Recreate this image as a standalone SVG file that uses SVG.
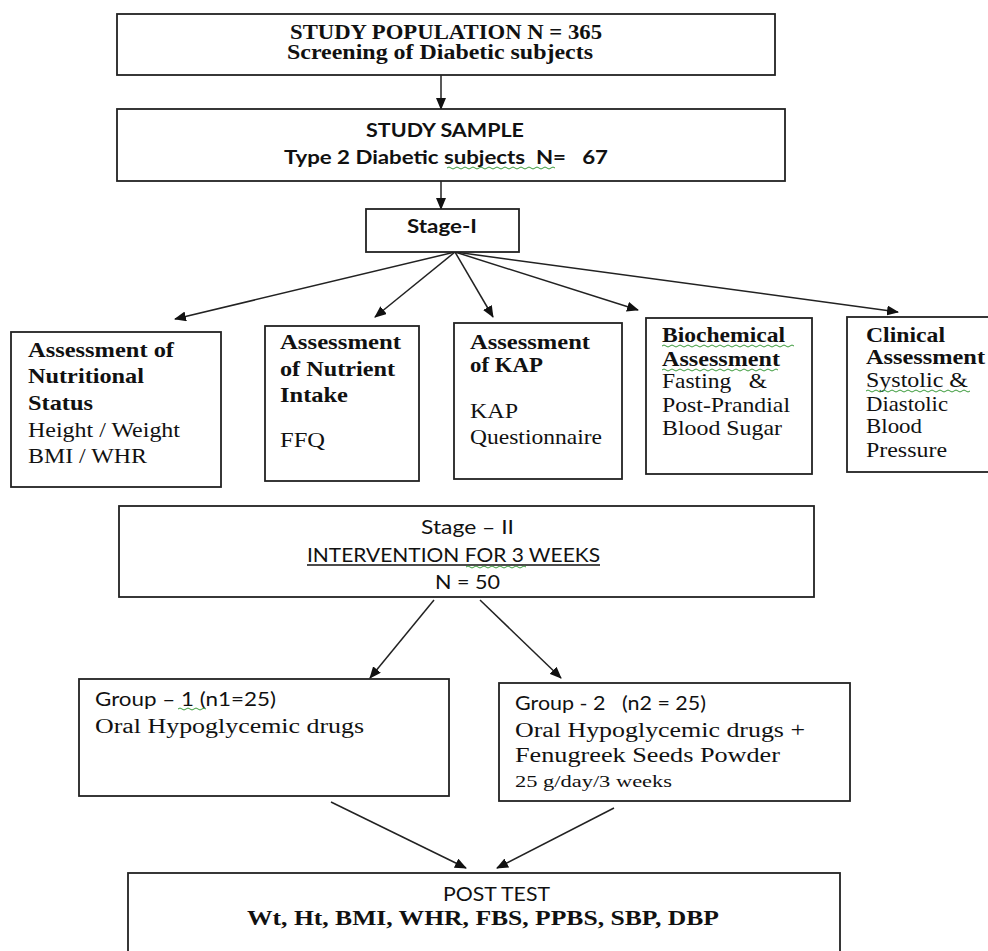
<svg xmlns="http://www.w3.org/2000/svg" width="988" height="951" viewBox="0 0 988 951">
<style>
.box{fill:#fff;stroke:#222;stroke-width:1.8}
.ser{font-family:"Liberation Serif","Times New Roman",serif;fill:#111}
.san{font-family:Lato,"Liberation Sans",Arial,sans-serif;fill:#111}
.b{font-weight:bold}
.con{stroke:#222;stroke-width:1.5;fill:none}
.wav{stroke:#3a9a3a;stroke-width:1;fill:none}
</style>
<defs>
<marker id="ah" markerUnits="userSpaceOnUse" markerWidth="12" markerHeight="10" refX="11" refY="5" orient="auto">
<path d="M0,0 L12,5 L0,10 Z" fill="#111"/>
</marker>
</defs>
<rect width="988" height="951" fill="#fff"/>

<g id="connectors">
<line class="con" x1="441" y1="75" x2="441" y2="109" marker-end="url(#ah)"/>
<line class="con" x1="441" y1="181" x2="441" y2="209" marker-end="url(#ah)"/>
<line class="con" x1="455" y1="252" x2="175" y2="319" marker-end="url(#ah)"/>
<line class="con" x1="455" y1="252" x2="375" y2="317" marker-end="url(#ah)"/>
<line class="con" x1="455" y1="252" x2="493" y2="317" marker-end="url(#ah)"/>
<line class="con" x1="455" y1="252" x2="638" y2="310" marker-end="url(#ah)"/>
<line class="con" x1="455" y1="252" x2="898" y2="312" marker-end="url(#ah)"/>
<line class="con" x1="434" y1="600" x2="370" y2="678" marker-end="url(#ah)"/>
<line class="con" x1="480" y1="600" x2="561" y2="678" marker-end="url(#ah)"/>
<line class="con" x1="331" y1="802" x2="466" y2="868" marker-end="url(#ah)"/>
<line class="con" x1="614" y1="808" x2="497" y2="868" marker-end="url(#ah)"/>
</g>

<g id="population">
<rect class="box" x="117" y="14" width="658" height="61"/>
<text class="ser b" x="290" y="39" font-size="20" textLength="312" lengthAdjust="spacingAndGlyphs">STUDY POPULATION N = 365</text>
<text class="ser b" x="287" y="59" font-size="20" textLength="306" lengthAdjust="spacingAndGlyphs">Screening of Diabetic subjects</text>
</g>

<g id="sample">
<rect class="box" x="117" y="109" width="668" height="72"/>
<text class="san b" x="366" y="137" font-size="19" textLength="158" lengthAdjust="spacingAndGlyphs">STUDY SAMPLE</text>
<text class="san b" x="284" y="164" font-size="19" textLength="324" lengthAdjust="spacingAndGlyphs" xml:space="preserve">Type 2 Diabetic subjects  N=   67</text>
<path class="wav" d="M447,168 q2,-2 4,0 t4,0 t4,0 t4,0 t4,0 t4,0 t4,0 t4,0 t4,0 t4,0 t4,0 t4,0 t4,0 t4,0 t4,0 t4,0 t4,0 t4,0 t4,0 t4,0 t4,0 t4,0 t4,0 t4,0 t4,0 t4,0 t4,0"/>
</g>

<g id="stage1">
<rect class="box" x="366" y="209" width="153" height="43"/>
<text class="san b" x="407" y="233" font-size="19" textLength="70" lengthAdjust="spacingAndGlyphs">Stage-I</text>
</g>

<g id="nutritional">
<rect class="box" x="11" y="332" width="210" height="155"/>
<text class="ser b" x="28" y="357" font-size="21" textLength="146" lengthAdjust="spacingAndGlyphs">Assessment of</text>
<text class="ser b" x="28" y="383" font-size="21" textLength="116" lengthAdjust="spacingAndGlyphs">Nutritional</text>
<text class="ser b" x="28" y="410" font-size="21" textLength="65" lengthAdjust="spacingAndGlyphs">Status</text>
<text class="ser" x="28" y="437" font-size="21" textLength="152" lengthAdjust="spacingAndGlyphs">Height / Weight</text>
<text class="ser" x="28" y="463" font-size="21" textLength="119" lengthAdjust="spacingAndGlyphs">BMI / WHR</text>
</g>

<g id="nutrient">
<rect class="box" x="265" y="326" width="154" height="155"/>
<text class="ser b" x="280" y="349" font-size="21" textLength="121" lengthAdjust="spacingAndGlyphs">Assessment</text>
<text class="ser b" x="280" y="376" font-size="21" textLength="115" lengthAdjust="spacingAndGlyphs">of Nutrient</text>
<text class="ser b" x="280" y="402" font-size="21" textLength="68" lengthAdjust="spacingAndGlyphs">Intake</text>
<text class="ser" x="280" y="447" font-size="21" textLength="45" lengthAdjust="spacingAndGlyphs">FFQ</text>
</g>

<g id="kap">
<rect class="box" x="454" y="323" width="168" height="156"/>
<text class="ser b" x="470" y="349" font-size="21" textLength="120" lengthAdjust="spacingAndGlyphs">Assessment</text>
<text class="ser b" x="470" y="372" font-size="21" textLength="73" lengthAdjust="spacingAndGlyphs">of KAP</text>
<text class="ser" x="470" y="418" font-size="21" textLength="48" lengthAdjust="spacingAndGlyphs">KAP</text>
<text class="ser" x="470" y="444" font-size="21" textLength="132" lengthAdjust="spacingAndGlyphs">Questionnaire</text>
</g>

<g id="biochemical">
<rect class="box" x="646" y="318" width="166" height="156"/>
<text class="ser b" x="662" y="342" font-size="21" textLength="123" lengthAdjust="spacingAndGlyphs">Biochemical</text>
<text class="ser b" x="662" y="366" font-size="21" textLength="118" lengthAdjust="spacingAndGlyphs">Assessment</text>
<text class="ser" x="662" y="388" font-size="21" textLength="105" lengthAdjust="spacingAndGlyphs" xml:space="preserve">Fasting   &amp;</text>
<text class="ser" x="662" y="412" font-size="21" textLength="128" lengthAdjust="spacingAndGlyphs">Post-Prandial</text>
<text class="ser" x="662" y="435" font-size="21" textLength="120" lengthAdjust="spacingAndGlyphs">Blood Sugar</text>
<path class="wav" d="M662,346 q2,-2 4,0 t4,0 t4,0 t4,0 t4,0 t4,0 t4,0 t4,0 t4,0 t4,0 t4,0 t4,0 t4,0 t4,0 t4,0 t4,0 t4,0 t4,0 t4,0 t4,0 t4,0 t4,0 t4,0 t4,0 t4,0 t4,0 t4,0 t4,0 t4,0 t4,0 t4,0 t4,0 t4,0"/>
<path class="wav" d="M662,370 q2,-2 4,0 t4,0 t4,0 t4,0 t4,0 t4,0 t4,0 t4,0 t4,0 t4,0 t4,0 t4,0 t4,0 t4,0 t4,0 t4,0 t4,0 t4,0 t4,0 t4,0 t4,0 t4,0 t4,0 t4,0 t4,0 t4,0 t4,0 t4,0 t4,0"/>
</g>

<g id="clinical">
<rect class="box" x="847" y="317" width="150" height="155"/>
<text class="ser b" x="866" y="342" font-size="21" textLength="79" lengthAdjust="spacingAndGlyphs">Clinical</text>
<text class="ser b" x="866" y="364" font-size="21" textLength="119" lengthAdjust="spacingAndGlyphs">Assessment</text>
<text class="ser" x="866" y="387" font-size="21" textLength="102" lengthAdjust="spacingAndGlyphs">Systolic &amp;</text>
<text class="ser" x="866" y="411" font-size="21" textLength="82" lengthAdjust="spacingAndGlyphs">Diastolic</text>
<text class="ser" x="866" y="433" font-size="21" textLength="56" lengthAdjust="spacingAndGlyphs">Blood</text>
<text class="ser" x="866" y="457" font-size="21" textLength="81" lengthAdjust="spacingAndGlyphs">Pressure</text>
<path class="wav" d="M866,391 q2,-2 4,0 t4,0 t4,0 t4,0 t4,0 t4,0 t4,0 t4,0 t4,0 t4,0 t4,0 t4,0 t4,0 t4,0 t4,0 t4,0 t4,0 t4,0 t4,0 t4,0 t4,0 t4,0 t4,0 t4,0 t4,0 t4,0"/>
</g>

<g id="stage2">
<rect class="box" x="119" y="506" width="695" height="91"/>
<text class="san" x="421" y="534" font-size="19" textLength="93" lengthAdjust="spacingAndGlyphs">Stage – II</text>
<text class="san" x="307" y="562" font-size="19" textLength="293" lengthAdjust="spacingAndGlyphs">INTERVENTION FOR 3 WEEKS</text>
<line x1="307" y1="565" x2="600" y2="565" stroke="#111" stroke-width="1.3"/>
<path class="wav" d="M466,567 q2,-2 4,0 t4,0 t4,0 t4,0 t4,0 t4,0 t4,0 t4,0 t4,0 t4,0 t4,0 t4,0 t4,0 t4,0 t4,0"/>
<text class="san" x="435" y="589" font-size="19" textLength="65" lengthAdjust="spacingAndGlyphs">N = 50</text>
</g>

<g id="group1">
<rect class="box" x="79" y="679" width="370" height="117"/>
<text class="san" x="95" y="706" font-size="19" textLength="181" lengthAdjust="spacingAndGlyphs">Group – 1 (n1=25)</text>
<path class="wav" d="M178,709 q2,-2 4,0 t4,0 t4,0 t4,0 t4,0 t4,0 t4,0"/>
<text class="ser" x="95" y="733" font-size="20" textLength="269" lengthAdjust="spacingAndGlyphs">Oral Hypoglycemic drugs</text>
</g>

<g id="group2">
<rect class="box" x="499" y="683" width="351" height="118"/>
<text class="san" x="515" y="710" font-size="19" textLength="191" lengthAdjust="spacingAndGlyphs" xml:space="preserve">Group - 2   (n2 = 25)</text>
<text class="ser" x="515" y="737" font-size="20" textLength="290" lengthAdjust="spacingAndGlyphs">Oral Hypoglycemic drugs +</text>
<text class="ser" x="515" y="762" font-size="20" textLength="265" lengthAdjust="spacingAndGlyphs">Fenugreek Seeds Powder</text>
<text class="ser" x="515" y="787" font-size="16" textLength="157" lengthAdjust="spacingAndGlyphs">25 g/day/3 weeks</text>
</g>

<g id="posttest">
<rect class="box" x="128" y="873" width="712" height="90"/>
<text class="san" x="443" y="901" font-size="19" textLength="107" lengthAdjust="spacingAndGlyphs">POST TEST</text>
<text class="ser b" x="247" y="925" font-size="22" textLength="472" lengthAdjust="spacingAndGlyphs">Wt, Ht, BMI, WHR, FBS, PPBS, SBP, DBP</text>
</g>
</svg>
